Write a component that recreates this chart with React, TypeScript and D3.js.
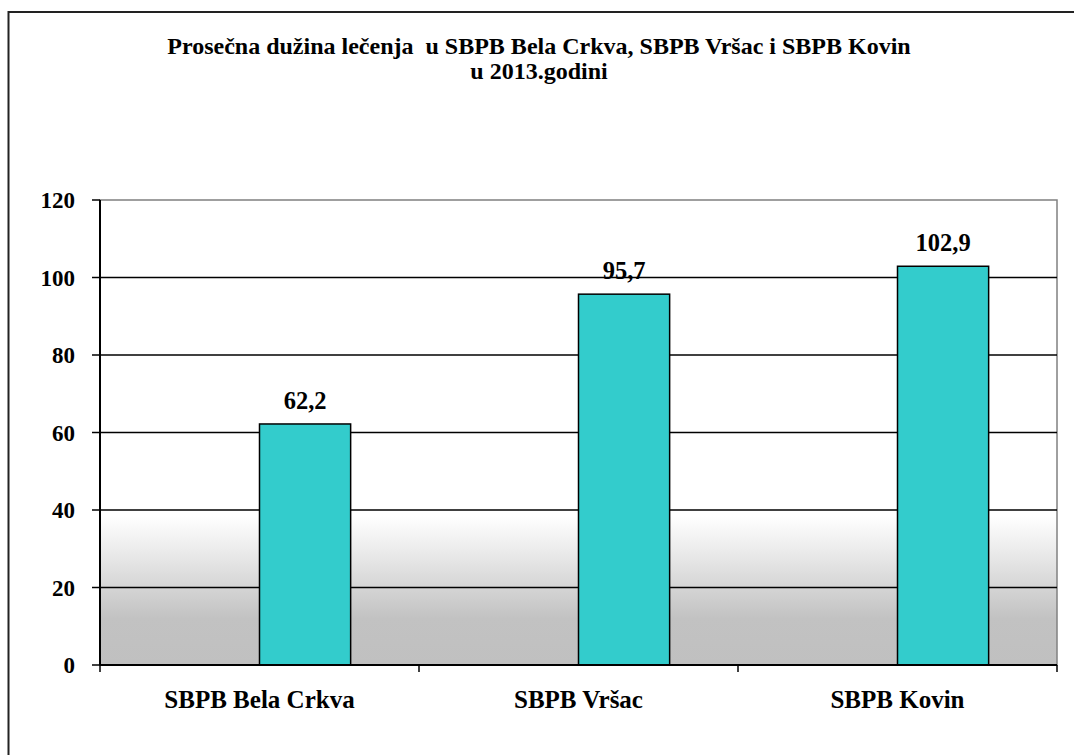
import React from 'react'
import * as d3 from 'd3'

const categories = ['SBPB Bela Crkva', 'SBPB Vršac', 'SBPB Kovin']
const values = [62.2, 95.7, 102.9]
const yTicks = [0, 20, 40, 60, 80, 100, 120]
const titleLines = [
  'Prosečna dužina lečenja  u SBPB Bela Crkva, SBPB Vršac i SBPB Kovin',
  'u 2013.godini',
]

const width = 1074
const height = 755
const margin = { top: 200, right: 17, bottom: 90, left: 100 }
const font = "'Liberation Serif', 'Times New Roman', Times, serif"

const App: React.FC = () => {
  const x = d3
    .scaleBand<string>()
    .domain(categories)
    .range([margin.left, width - margin.right])
    .padding(0)
  const y = d3
    .scaleLinear()
    .domain([0, 120])
    .range([height - margin.bottom, margin.top])

  // Excel-style: two-slot cluster, only the right slot carries data
  const barW = x.bandwidth() / 3.5
  const x0 = margin.left
  const x1 = width - margin.right
  const y0 = y(0)
  const yTop = y(120)

  return (
    <svg
      width={width}
      height={height}
      style={{
        position: 'absolute',
        left: 0,
        top: 0,
        background: '#fff',
        fontFamily: font,
        fontWeight: 'bold',
      }}
    >
      <defs>
        <linearGradient id="plotBg" x1="0" y1="0" x2="0" y2="1">
          <stop offset="0" stopColor="#ffffff" />
          <stop offset="0.68" stopColor="#ffffff" />
          <stop offset="0.78" stopColor="#e4e4e4" />
          <stop offset="0.9" stopColor="#c2c2c2" />
          <stop offset="1" stopColor="#c0c0c0" />
        </linearGradient>
      </defs>

      {/* outer chart frame */}
      <path
        d={`M8.5,${height + 5} L8.5,12 L${width + 5},12`}
        fill="none"
        stroke="#222"
        strokeWidth={2}
      />

      {/* title */}
      {titleLines.map((t, i) => (
        <text
          key={i}
          x={539}
          y={54 + i * 25}
          textAnchor="middle"
          fontSize={24}
          fill="#000"
          style={{ whiteSpace: 'pre' }}
        >
          {t}
        </text>
      ))}

      {/* plot area */}
      <rect
        x={x0}
        y={yTop}
        width={x1 - x0}
        height={y0 - yTop}
        fill="url(#plotBg)"
        stroke="#808080"
        strokeWidth={1.5}
      />

      {/* gridlines */}
      {yTicks
        .filter((t) => t > 0 && t < 120)
        .map((t) => (
          <line
            key={t}
            x1={x0}
            x2={x1}
            y1={y(t)}
            y2={y(t)}
            stroke="#000"
            strokeWidth={1.5}
          />
        ))}

      {/* bars */}
      {categories.map((c, i) => {
        const bx = x(c)! + x.bandwidth() / 2
        return (
          <g key={c}>
            <rect
              x={bx}
              y={y(values[i])}
              width={barW}
              height={y0 - y(values[i])}
              fill="#33CCCC"
              stroke="#000"
              strokeWidth={1.5}
            />
            <text
              x={bx + barW / 2}
              y={y(values[i]) - 15}
              textAnchor="middle"
              fontSize={24.5}
              fill="#000"
            >
              {values[i].toString().replace('.', ',')}
            </text>
          </g>
        )
      })}

      {/* y axis */}
      <line x1={x0} x2={x0} y1={yTop} y2={y0} stroke="#000" strokeWidth={2} />
      {yTicks.map((t) => (
        <g key={t}>
          <line
            x1={x0 - 8}
            x2={x0}
            y1={y(t)}
            y2={y(t)}
            stroke="#000"
            strokeWidth={1.5}
          />
          <text
            x={x0 - 25}
            y={y(t) + 8}
            textAnchor="end"
            fontSize={23}
            fill="#000"
          >
            {t}
          </text>
        </g>
      ))}

      {/* x axis */}
      <line x1={x0} x2={x1} y1={y0} y2={y0} stroke="#000" strokeWidth={2} />
      {[...categories.map((c) => x(c)!), x1].map((v, i) => (
        <line
          key={i}
          x1={v}
          x2={v}
          y1={y0}
          y2={y0 + 7}
          stroke="#000"
          strokeWidth={1.5}
        />
      ))}
      {categories.map((c) => (
        <text
          key={c}
          x={x(c)! + x.bandwidth() / 2}
          y={y0 + 43}
          textAnchor="middle"
          fontSize={25}
          fill="#000"
        >
          {c}
        </text>
      ))}
    </svg>
  )
}

export default App
